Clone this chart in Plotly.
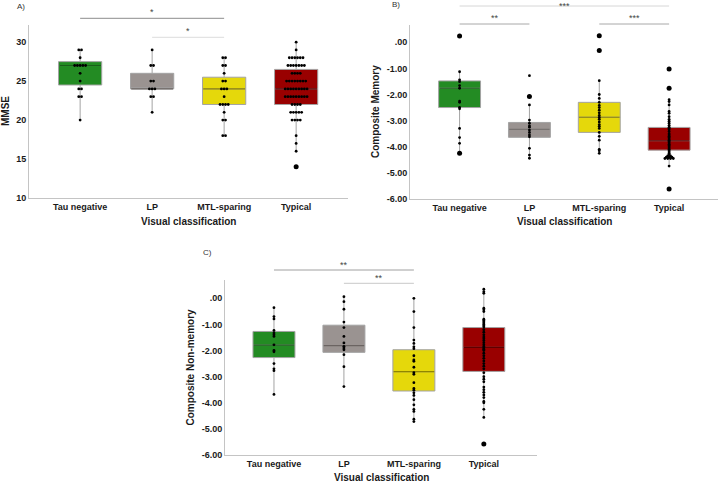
import plotly.graph_objects as go
from collections import Counter

categories = ["Tau negative", "LP", "MTL-sparing", "Typical"]
box_colors = ["#238b23", "#9a9391", "#e5d80b", "#990000"]
median_colors = ["#1b5e1b", "#6b6462", "#8f8500", "#5e0000"]

# ---------------- Panel A: MMSE ----------------
mmse_tau = [29, 29, 28, 27, 27, 27, 27, 27, 26, 25, 24, 24, 23, 23, 20]
mmse_lp = [29, 27, 27, 25, 25, 24, 24, 24, 23, 23, 21]
mmse_mtl = [28, 28, 27, 27, 26, 25, 25, 24, 24, 24, 23, 22, 22, 22, 22, 21, 20, 20, 18, 18]
mmse_typ = ([30, 29] + [28] * 6 + [27] * 7 + [26] * 4 + [25] * 8 + [24] * 9 + [23] * 9
            + [22] * 4 + [21] * 5 + [20] * 4 + [18, 17, 16])
mmse_outliers = [[], [], [], [14]]
mmse_q1 = [24.5, 24, 22, 22]
mmse_median = [27, 24, 24, 24]
mmse_q3 = [27.5, 26, 25.5, 26.5]
mmse_low = [20, 21, 18, 16]
mmse_high = [29, 29, 28, 30]

# ---------------- Panel B: Composite Memory ----------------
mem_tau = [-1.13, -1.44, -1.51, -1.66, -1.76, -2.25, -2.30, -2.49, -2.55, -3.30, -3.65, -3.87]
mem_lp = [-1.28, -2.40, -2.98, -3.10, -3.20, -3.25, -3.36, -3.45, -3.55, -3.62, -4.06, -4.32, -4.44]
mem_mtl = [-1.47, -2.00, -2.15, -2.30, -2.42, -2.50, -2.60, -2.70, -2.80, -2.88, -2.95, -3.05,
           -3.15, -3.22, -3.30, -3.45, -3.60, -3.75, -4.10, -4.15, -4.25]
mem_typ = [-2.20, -2.27, -2.40, -2.65, -2.72, -2.85, -2.95, -3.02, -3.10, -3.18, -3.25, -3.30,
           -3.35, -3.42, -3.50, -3.55, -3.60, -3.65, -3.70, -3.75, -3.80, -3.85, -3.90, -3.95,
           -4.00, -4.05, -4.10, -4.15, -4.20, -4.25, -4.30, -4.35, -4.35, -4.40, -4.40, -4.40,
           -4.45, -4.45, -4.45, -4.45, -4.74]
mem_outliers = [[0.24, -4.25], [-2.08], [0.25, -0.32], [-1.02, -1.76, -5.62]]
mem_q1 = [-2.50, -3.64, -3.45, -4.13]
mem_median = [-1.76, -3.33, -2.87, -3.77]
mem_q3 = [-1.48, -3.07, -2.30, -3.26]
mem_low = [-4.25, -4.44, -4.25, -4.74]
mem_high = [-1.13, -2.40, -1.47, -2.20]

# ---------------- Panel C: Composite Non-memory ----------------
non_tau = [-0.36, -0.70, -0.79, -1.23, -1.33, -1.40, -1.46, -1.78, -2.00, -2.05, -2.50, -2.70, -2.77, -3.68]
non_lp = [0.06, -0.13, -0.42, -0.91, -1.12, -1.46, -1.71, -1.84, -1.90, -1.97, -2.16, -2.62, -3.38]
non_mtl = [0.00, -0.51, -1.12, -1.60, -1.73, -1.86, -1.93, -2.20, -2.36, -2.41, -2.64, -2.85, -2.91,
           -3.23, -3.45, -3.52, -3.62, -3.72, -3.88, -4.08, -4.25, -4.33, -4.63, -4.72]
non_typ = [0.35, 0.25, 0.19, -0.38, -0.44, -0.51, -0.80, -0.85, -0.90, -0.95, -1.00, -1.05, -1.10,
           -1.20, -1.30, -1.40, -1.48, -1.55, -1.62, -1.70, -1.78, -1.85, -1.90, -1.95, -2.00,
           -2.10, -2.20, -2.30, -2.40, -2.50, -2.60, -2.70, -2.85, -3.00, -3.10, -3.20, -3.40,
           -3.50, -3.60, -3.70, -3.80, -3.95, -4.00, -4.25, -4.56]
non_outliers = [[], [], [], [-5.58]]
non_q1 = [-2.27, -2.07, -3.55, -2.80]
non_median = [-1.79, -1.81, -2.81, -1.88]
non_q3 = [-1.27, -1.03, -1.97, -1.12]
non_low = [-3.68, -3.38, -4.72, -4.56]
non_high = [-0.36, 0.06, 0.00, 0.35]

comp_ticks = [0, -1, -2, -3, -4, -5, -6]
comp_ticktext = [".00", "-1.00", "-2.00", "-3.00", "-4.00", "-5.00", "-6.00"]
mmse_ticks = [10, 15, 20, 25, 30]

FONT = "Liberation Sans"
W, H = 720, 483
BOX_W = 0.6


def stacked(values, step):
    counts = Counter(values)
    seen = Counter()
    out = []
    for v in values:
        n = counts[v]
        k = seen[v]
        seen[v] += 1
        out.append((k - (n - 1) / 2) * step)
    return out


fig = go.Figure()

panels = [
    dict(ax="", groups=[mmse_tau, mmse_lp, mmse_mtl, mmse_typ], outl=mmse_outliers,
         q1=mmse_q1, med=mmse_median, q3=mmse_q3, lo=mmse_low, hi=mmse_high, step=0.038),
    dict(ax="2", groups=[mem_tau, mem_lp, mem_mtl, mem_typ], outl=mem_outliers,
         q1=mem_q1, med=mem_median, q3=mem_q3, lo=mem_low, hi=mem_high, step=0.04),
    dict(ax="3", groups=[non_tau, non_lp, non_mtl, non_typ], outl=non_outliers,
         q1=non_q1, med=non_median, q3=non_q3, lo=non_low, hi=non_high, step=0.04),
]

for p in panels:
    xa, ya = "x" + p["ax"], "y" + p["ax"]
    for i, cat in enumerate(categories):
        fig.add_trace(go.Box(
            x=[i], q1=[p["q1"][i]], median=[p["med"][i]], q3=[p["q3"][i]],
            lowerfence=[p["lo"][i]], upperfence=[p["hi"][i]],
            fillcolor=box_colors[i], line=dict(color="#a3a3a3", width=1),
            whiskerwidth=0, width=BOX_W, boxpoints=False, opacity=1,
            xaxis=xa, yaxis=ya, showlegend=False, name=cat))
        # darker median line drawn over the box
        fig.add_trace(go.Scatter(
            x=[i - BOX_W / 2 + 0.01, i + BOX_W / 2 - 0.01], y=[p["med"][i]] * 2, mode="lines",
            line=dict(color=median_colors[i], width=1.2), xaxis=xa, yaxis=ya,
            showlegend=False, hoverinfo="skip"))
    for i, vals in enumerate(p["groups"]):
        offs = stacked(vals, p["step"])
        fig.add_trace(go.Scatter(
            x=[i + o for o in offs], y=vals, mode="markers",
            marker=dict(color="black", size=2.8), xaxis=xa, yaxis=ya, showlegend=False))
        if p["outl"][i]:
            fig.add_trace(go.Scatter(
                x=[i] * len(p["outl"][i]), y=p["outl"][i], mode="markers",
                marker=dict(color="black", size=5), xaxis=xa, yaxis=ya, showlegend=False))


def px_x(v):
    return v / W


def px_y(v):
    return 1 - v / H


axis_common = dict(showgrid=False, zeroline=False, showline=True, linecolor="#c4c4c4",
                   linewidth=1, ticks="", automargin=False,
                   tickfont=dict(family=FONT, size=9, color="#1a1a1a", weight="bold"))

fig.update_layout(
    width=W, height=H, margin=dict(l=0, r=0, t=0, b=0),
    paper_bgcolor="white", plot_bgcolor="white",
    xaxis=dict(domain=[px_x(29), px_x(348)], range=[-0.71, 3.72], anchor="y",
               tickvals=[0, 1, 2, 3], ticktext=categories, **axis_common),
    yaxis=dict(domain=[px_y(198), px_y(25)], range=[10, 32.2], anchor="x",
               tickvals=mmse_ticks, **axis_common),
    xaxis2=dict(domain=[px_x(410), px_x(718)], range=[-0.71, 3.7], anchor="y2",
                tickvals=[0, 1, 2, 3], ticktext=categories, **axis_common),
    yaxis2=dict(domain=[px_y(199), px_y(25)], range=[-6, 0.66], anchor="x2",
                tickvals=comp_ticks, ticktext=comp_ticktext, **axis_common),
    xaxis3=dict(domain=[px_x(225), px_x(537)], range=[-0.7, 3.76], anchor="y3",
                tickvals=[0, 1, 2, 3], ticktext=categories, **axis_common),
    yaxis3=dict(domain=[px_y(455), px_y(280)], range=[-6, 0.7], anchor="x3",
                tickvals=comp_ticks, ticktext=comp_ticktext, **axis_common),
)

title_font = dict(family=FONT, size=10, color="#1a1a1a", weight="bold")
label_font = dict(family=FONT, size=8, color="#333333")
anns = []
# axis titles
for x, y, t, ang in [
    (188.5, 221.5, "Visual classification", 0),
    (564, 221.5, "Visual classification", 0),
    (381, 477, "Visual classification", 0),
    (5.5, 111.5, "MMSE", -90),
    (375, 112, "Composite Memory", -90),
    (190, 367.5, "Composite Non-memory", -90),
]:
    anns.append(dict(x=px_x(x), y=px_y(y), xref="paper", yref="paper", text=t, showarrow=False,
                     textangle=ang, xanchor="center", yanchor="middle", font=title_font))
# panel labels
for x, y, t in [(21, 6, "A)"), (396, 5, "B)"), (208, 252, "C)")]:
    anns.append(dict(x=px_x(x), y=px_y(y), xref="paper", yref="paper", text=t, showarrow=False,
                     xanchor="center", yanchor="middle", font=label_font))

# significance comparisons: (axis suffix, group a, group b, label, bar y px, star y px, colour)
comparisons = [
    ("", 0, 2, "*", 18.3, 12, "#8c8c8c"),
    ("", 1, 2, "*", 37.3, 31, "#dcdcdc"),
    ("2", 0, 3, "***", 6, 5.5, "#d6d6d6"),
    ("2", 0, 1, "**", 24, 18.5, "#a8a8a8"),
    ("2", 2, 3, "***", 24, 18.5, "#a8a8a8"),
    ("3", 0, 2, "**", 270, 265, "#a0a0a0"),
    ("3", 1, 2, "**", 283.3, 278, "#c8c8c8"),
]
shapes = []
for ax, a, b, lab, ypx, spx, col in comparisons:
    shapes.append(dict(type="line", xref="x" + ax, yref="paper", x0=a, x1=b,
                       y0=px_y(ypx), y1=px_y(ypx), line=dict(color=col, width=1)))
    anns.append(dict(x=(a + b) / 2, y=px_y(spx), xref="x" + ax, yref="paper", text=lab,
                     showarrow=False, xanchor="center", yanchor="middle",
                     font=dict(family=FONT, size=9, color="#444444")))

fig.update_layout(annotations=anns, shapes=shapes)
fig.write_html("out.html", config={"displayModeBar": False},
               post_script="document.body.style.margin='0';")
